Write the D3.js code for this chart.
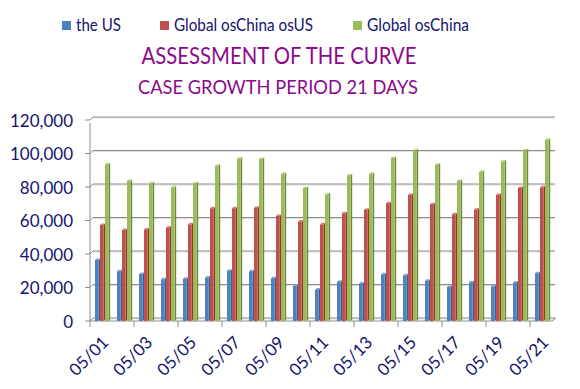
<!DOCTYPE html>
<html>
<head>
<meta charset="utf-8">
<script src="https://cdn.jsdelivr.net/npm/d3@7"></script>
<style>
    body { margin: 0; background: #ffffff; }
    text { font-family: Lato, "Open Sans", sans-serif; }
</style>
</head>
<body>
<div id="canvas"></div>
<script>
"use strict"

/* Data */
let dates = ["05/01", "05/02", "05/03", "05/04", "05/05", "05/06", "05/07",
    "05/08", "05/09", "05/10", "05/11", "05/12", "05/13", "05/14",
    "05/15", "05/16", "05/17", "05/18", "05/19", "05/20", "05/21"];
let seriesNames = ["the US", "Global osChina osUS", "Global osChina"];
let usCases = [36400, 29700, 28000, 24900, 25100, 25900, 30000,
    29700, 25500, 20900, 18700, 23300, 22300, 27800,
    27300, 23900, 20300, 23100, 20700, 22900, 28500];
let globalExChinaUS = [57300, 54300, 54700, 55700, 57700, 67300, 67300,
    67500, 62700, 59300, 57700, 64300, 66300, 70300,
    75200, 69700, 63700, 66500, 75200, 79400, 79800];
let globalExChina = [93500, 83600, 82200, 79800, 82200, 92700, 96900,
    96700, 87800, 79400, 75600, 87000, 87800, 97300,
    101900, 93300, 83600, 89000, 95300, 101900, 108100];
let yTicks = [0, 20000, 40000, 60000, 80000, 100000, 120000];
let xLabelDates = ["05/01", "05/03", "05/05", "05/07", "05/09", "05/11",
    "05/13", "05/15", "05/17", "05/19", "05/21"];

/* Drawing config */
let svgWidth = 580;
let svgHeight = 389;
let depth = 3; /* offset of the back wall (fake 3d) */
let navy = "#14146e";
let fronts = ["#4f81bd", "#c0504d", "#9bbb59"];
let sides = ["#385d8a", "#8c3836", "#6f8a3c"];
let tops = ["#7ea3d4", "#d77f7c", "#bcd68a"];

let svg = d3.select("#canvas")
    .append("svg")
    .attr("width", svgWidth)
    .attr("height", svgHeight);

svg.append("rect")
    .attr("width", svgWidth)
    .attr("height", svgHeight)
    .attr("fill", "white");

let xScale = d3.scaleBand()
    .domain(dates)
    .range([90, 552]);

let subScale = d3.scaleBand()
    .domain([0, 1, 2])
    .range([5, 20]);

let yScale = d3.scaleLinear()
    .domain([0, 120000])
    .range([321, 120]);

let x0 = xScale.range()[0];
let x1 = xScale.range()[1];

/* back wall gridlines */
yTicks.forEach(function (v) {
    let y = yScale(v);
    svg.append("line")
        .attr("x1", x0 + depth).attr("x2", x1 + depth)
        .attr("y1", y - depth + 1).attr("y2", y - depth + 1)
        .attr("stroke", "#e0e0e0")
        .attr("stroke-width", 1);
    svg.append("path")
        .attr("d", "M" + x0 + "," + y + "L" + (x0 + depth) + "," + (y - depth)
            + "L" + (x1 + depth) + "," + (y - depth))
        .attr("fill", "none")
        .attr("stroke", "#8c8c8c")
        .attr("stroke-width", 1);
    /* tick mark */
    svg.append("line")
        .attr("x1", x0 - 5).attr("x2", x0)
        .attr("y1", y).attr("y2", y)
        .attr("stroke", "#8c8c8c");
    svg.append("text")
        .attr("x", 73)
        .attr("y", y)
        .attr("text-anchor", "end")
        .attr("dominant-baseline", "central")
        .attr("font-size", 17)
        .attr("fill", navy)
        .text(d3.format(",")(v));
});

/* vertical axis line */
svg.append("line")
    .attr("x1", x0).attr("x2", x0)
    .attr("y1", yScale(120000) + 3).attr("y2", yScale(0))
    .attr("stroke", "#8c8c8c");

/* floor right edge */
svg.append("path")
    .attr("d", "M" + x0 + "," + yScale(0) + "L" + x1 + "," + yScale(0)
        + "L" + (x1 + depth + 1) + "," + (yScale(0) - depth))
    .attr("fill", "none")
    .attr("stroke", "#8c8c8c");

/* bars */
let allSeries = [usCases, globalExChinaUS, globalExChina];
let bw = 3.6;
let sd = 1.6;
allSeries.forEach(function (values, s) {
    let g = svg.append("g");
    let rows = dates.map(function (d, i) { return {date: d, value: values[i]}; });
    let base = yScale(0);
    /* side face */
    g.selectAll(".side")
        .data(rows)
        .join("path")
        .attr("d", function (d) {
            let x = xScale(d.date) + subScale(s) + bw;
            let y = yScale(d.value);
            return "M" + x + "," + y + "L" + (x + sd) + "," + (y - sd)
                + "L" + (x + sd) + "," + (base - sd) + "L" + x + "," + base + "Z";
        })
        .attr("fill", sides[s]);
    /* top face */
    g.selectAll(".top")
        .data(rows)
        .join("path")
        .attr("d", function (d) {
            let x = xScale(d.date) + subScale(s);
            let y = yScale(d.value);
            return "M" + x + "," + y + "L" + (x + sd) + "," + (y - sd)
                + "L" + (x + bw + sd) + "," + (y - sd) + "L" + (x + bw) + "," + y + "Z";
        })
        .attr("fill", tops[s]);
    /* front face */
    g.selectAll("rect")
        .data(rows)
        .join("rect")
        .attr("x", function (d) { return xScale(d.date) + subScale(s); })
        .attr("y", function (d) { return yScale(d.value); })
        .attr("width", bw)
        .attr("height", function (d) { return base - yScale(d.value); })
        .attr("fill", fronts[s]);
});

/* x ticks every second category */
xLabelDates.forEach(function (d) {
    let x = xScale(d);
    svg.append("line")
        .attr("x1", x).attr("x2", x)
        .attr("y1", yScale(0)).attr("y2", yScale(0) + 6)
        .attr("stroke", "#8c8c8c");
    svg.append("text")
        .attr("transform", "translate(" + (x + xScale.bandwidth() / 2 + 4) + "," + 339 + ") rotate(-45)")
        .attr("text-anchor", "end")
        .attr("dominant-baseline", "central")
        .attr("font-size", 17)
        .attr("fill", navy)
        .text(d);
});

/* legend; widths squeezed to match the narrow original face */
let legendX = [62, 160, 353];
let legendW = [45, 139, 102];
seriesNames.forEach(function (name, s) {
    svg.append("rect")
        .attr("x", legendX[s])
        .attr("y", 21)
        .attr("width", 9)
        .attr("height", 9)
        .attr("fill", fronts[s]);
    svg.append("text")
        .attr("x", legendX[s] + 14)
        .attr("y", 31)
        .attr("font-size", 17)
        .attr("textLength", legendW[s])
        .attr("lengthAdjust", "spacingAndGlyphs")
        .attr("fill", navy)
        .text(name);
});

/* titles */
svg.append("text")
    .attr("x", 279)
    .attr("y", 64)
    .attr("text-anchor", "middle")
    .attr("font-size", 24)
    .attr("textLength", 275)
    .attr("lengthAdjust", "spacingAndGlyphs")
    .attr("fill", "#8b0a8b")
    .text("ASSESSMENT OF THE CURVE");

svg.append("text")
    .attr("x", 278)
    .attr("y", 94)
    .attr("text-anchor", "middle")
    .attr("font-size", 20)
    .attr("textLength", 280)
    .attr("lengthAdjust", "spacingAndGlyphs")
    .attr("fill", "#8b0a8b")
    .text("CASE GROWTH PERIOD 21 DAYS");
</script>
</body>
</html>
